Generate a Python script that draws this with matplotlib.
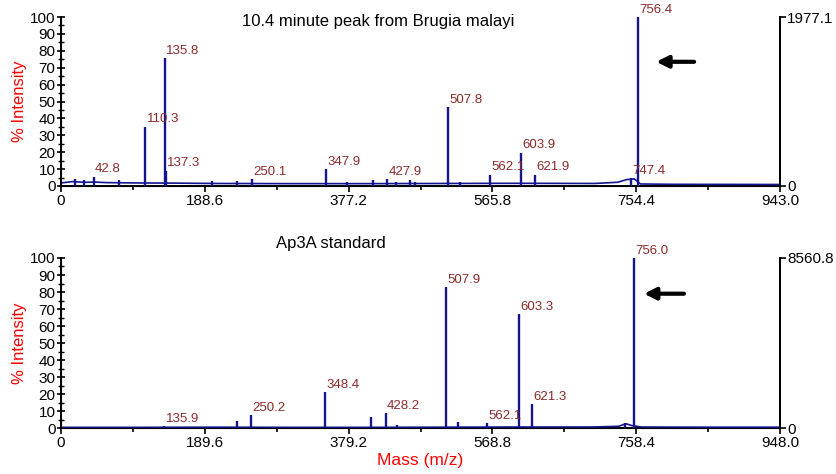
import matplotlib
matplotlib.use("Agg")
import matplotlib.pyplot as plt
from matplotlib.ticker import MultipleLocator, FixedLocator

plt.rcParams['font.family'] = ['Liberation Sans', 'DejaVu Sans']

LINE = '#15158f'
LABEL = '#8b2a2a'

# --- top spectrum: 10.4 minute peak from Brugia malayi
top_title = '10.4 minute peak from Brugia malayi'
top_xmax = 943.0
top_xticks = [0, 188.6, 377.2, 565.8, 754.4, 943.0]
top_max_counts = '1977.1'
top_peak_mz = [18.4, 30.0, 42.8, 76.0, 110.3, 135.8, 137.3, 198.0, 231.0, 250.1,
               347.9, 375.0, 409.0, 427.9, 440.0, 458.0, 464.0, 507.8, 523.0,
               562.1, 603.9, 621.9, 747.4, 756.4]
top_peak_int = [4.0, 3.5, 5.5, 3.5, 35.0, 75.5, 9.0, 2.8, 3.2, 4.2,
                10.0, 2.5, 3.8, 4.0, 2.2, 3.5, 2.6, 46.5, 2.2,
                6.8, 19.8, 6.7, 4.5, 100.0]
top_labels = ['42.8', '110.3', '135.8', '137.3', '250.1', '347.9', '427.9',
              '507.8', '562.1', '603.9', '621.9', '747.4', '756.4']
top_base_mz = [0, 15, 30, 45, 60, 100, 150, 200, 300, 400, 500, 600, 700,
               730, 742, 752, 760, 800, 943]
top_base_int = [1.8, 2.6, 2.2, 2.3, 2.0, 1.8, 1.7, 1.5, 1.4, 1.4, 1.5, 1.6, 1.5,
                2.2, 3.8, 4.2, 1.2, 1.0, 0.9]

# --- bottom spectrum: Ap3A standard
bot_title = 'Ap3A standard'
bot_xmax = 948.0
bot_xticks = [0, 189.6, 379.2, 568.8, 758.4, 948.0]
bot_max_counts = '8560.8'
bot_peak_mz = [135.9, 232.0, 250.2, 348.4, 409.0, 428.2, 443.0, 507.9, 523.5,
               562.1, 603.3, 621.3, 743.6, 756.0]
bot_peak_int = [1.2, 4.0, 7.6, 21.0, 6.7, 8.6, 2.0, 83.0, 3.7,
                3.0, 67.0, 14.0, 3.0, 100.0]
bot_labels = ['135.9', '250.2', '348.4', '428.2', '507.9', '562.1', '603.3',
              '621.3', '756.0']
bot_base_mz = [0, 100, 200, 300, 400, 500, 600, 700, 735, 745, 752, 765, 850, 948]
bot_base_int = [0.4, 0.4, 0.5, 0.4, 0.4, 0.5, 0.6, 0.6, 1.0, 2.5, 1.5, 0.6, 0.5, 0.5]

# arrow (tail, head) in data units for each panel
top_arrow = ((834, 73.5), (777, 73.5))
bot_arrow = ((825, 79.0), (765, 79.0))


def draw_panel(ax, peak_mz, peak_int, labels, base_mz, base_int, xmax, xticks,
               max_counts, arrow):
    ax.plot(base_mz, base_int, color=LINE, lw=1.2, zorder=3)
    ax.vlines(peak_mz, 0, peak_int, color=LINE, lw=1.7, zorder=3)
    for m, h in zip(peak_mz, peak_int):
        lbl = f'{m:.1f}'
        if lbl in labels:
            ax.annotate(lbl, (m, min(h, 100)), xytext=(1, 1), textcoords='offset points',
                        color=LABEL, fontsize=9.5, ha='left', va='bottom', zorder=4)
    ax.annotate('', xy=arrow[1], xytext=arrow[0],
                arrowprops=dict(arrowstyle='-|>,head_length=0.7,head_width=0.35',
                                color='black', lw=3.0))

    ax.set_xlim(0, xmax)
    ax.set_ylim(0, 100)
    ax.set_xticks(xticks)
    ax.set_xticklabels([f'{t:g}' if t == 0 else f'{t:.1f}' for t in xticks])
    ax.xaxis.set_minor_locator(FixedLocator([(a + b) / 2 for a, b in zip(xticks[:-1], xticks[1:])]))
    ax.yaxis.set_major_locator(MultipleLocator(10))
    ax.yaxis.set_minor_locator(MultipleLocator(5))
    ax.tick_params(axis='y', which='major', direction='inout', length=6, width=1.2, labelsize=11, pad=1)
    ax.tick_params(axis='y', which='minor', direction='inout', length=4, width=1)
    ax.tick_params(axis='x', which='major', direction='out', length=4, width=1.2, labelsize=11, pad=2)
    ax.tick_params(axis='x', which='minor', direction='out', length=3, width=1.2)
    ax.spines['top'].set_visible(False)
    for s in ('left', 'bottom', 'right'):
        ax.spines[s].set_linewidth(1.4)
    ax.set_ylabel('% Intensity', color='red', fontsize=12, labelpad=2)

    ax2 = ax.twinx()
    ax2.set_ylim(0, 100)
    ax2.set_yticks([0, 100])
    ax2.set_yticklabels(['0', max_counts])
    ax2.tick_params(axis='y', direction='out', length=4, width=1.2, labelsize=11, pad=1)
    ax2.spines['top'].set_visible(False)
    ax2.spines['right'].set_linewidth(1.4)
    return ax2


fig = plt.figure(figsize=(8.37, 4.74), dpi=100)
ax_top = fig.add_axes([0.0729, 0.6076, 0.859, 0.3565])
ax_bot = fig.add_axes([0.0729, 0.0970, 0.859, 0.3587])

draw_panel(ax_top, top_peak_mz, top_peak_int, top_labels, top_base_mz, top_base_int,
           top_xmax, top_xticks, top_max_counts, top_arrow)
draw_panel(ax_bot, bot_peak_mz, bot_peak_int, bot_labels, bot_base_mz, bot_base_int,
           bot_xmax, bot_xticks, bot_max_counts, bot_arrow)

ax_top.text(0.441, 0.975, top_title, transform=ax_top.transAxes, ha='center', va='center',
            fontsize=12)
ax_bot.text(0.375, 1.088, bot_title, transform=ax_bot.transAxes, ha='center', va='center',
            fontsize=12)
ax_bot.set_xlabel('Mass (m/z)', color='red', fontsize=12.5, labelpad=2)

fig.savefig('out.png', dpi=100)
